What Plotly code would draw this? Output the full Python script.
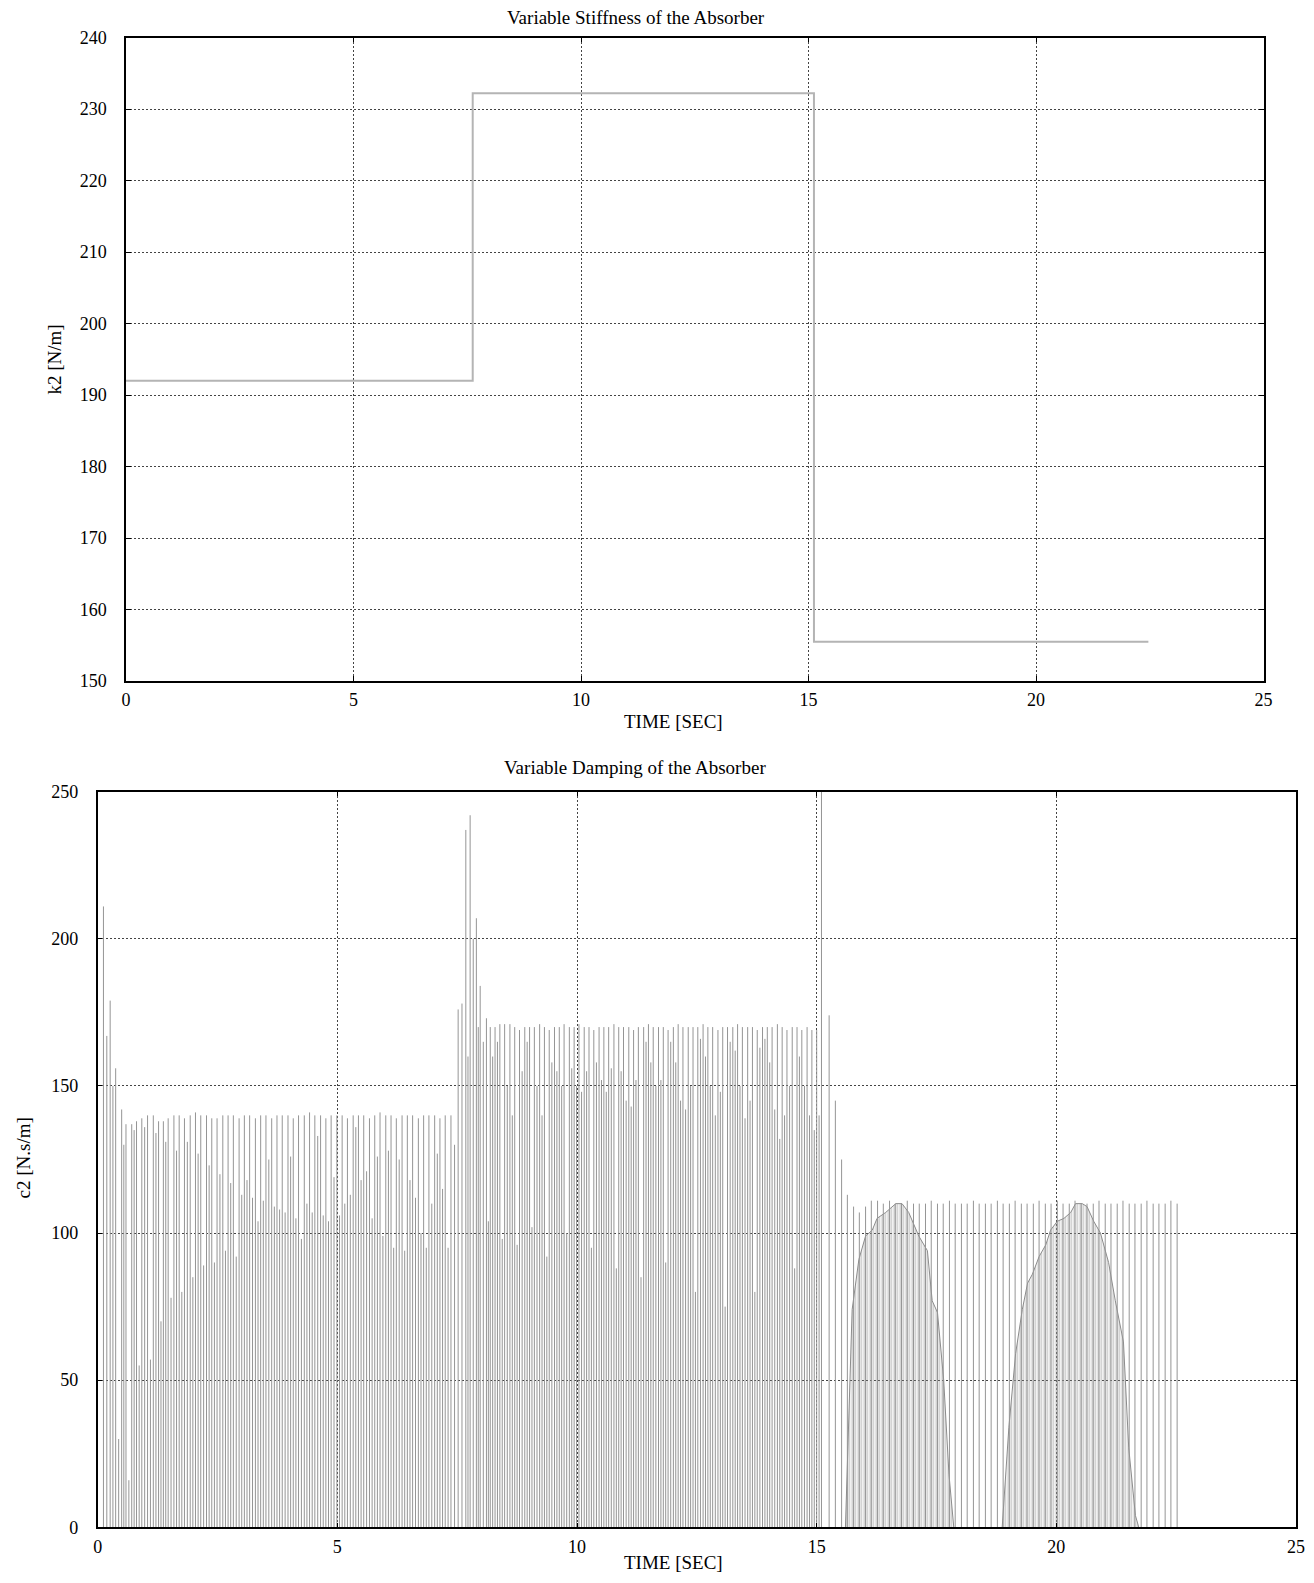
import plotly.graph_objects as go

# page is 1314x1583; the html body has an 8px margin
OX, OY = 8, 8
W, H = 1314 - 2 * OX, 1583 - 2 * OY

# ---------------- Top chart: variable stiffness k2 ----------------
k2_times = [0, 7.62, 15.12, 22.47]
k2_values = [192.0, 232.2, 155.5, 155.5]

# ---------------- Bottom chart: variable damping c2 ----------------
# segment 1 (k2 = 192): spike times, spike peaks, secondary line heights
seg1_t = [0.12, 0.26, 0.375, 0.50, 0.59, 0.71, 0.81, 0.92, 1.04, 1.16,
          1.27, 1.37, 1.47, 1.59, 1.70, 1.81, 1.93, 2.04, 2.15, 2.27,
          2.38, 2.49, 2.61, 2.72, 2.83, 2.95, 3.06, 3.17, 3.29, 3.40,
          3.51, 3.63, 3.74, 3.85, 3.97, 4.08, 4.19, 4.31, 4.42, 4.53,
          4.65, 4.76, 4.87, 4.99, 5.10, 5.21, 5.33, 5.44, 5.55, 5.67,
          5.78, 5.89, 6.01, 6.12, 6.23, 6.35, 6.46, 6.57, 6.69, 6.80,
          6.91, 7.03, 7.14, 7.25, 7.37]
seg1_peak = [211, 179, 156, 142, 137, 137, 138, 139, 140, 140,
             138, 138, 139, 140, 140, 139, 140, 141, 140, 140,
             139, 139, 140, 140, 140, 139, 140, 140, 139, 140,
             140, 139, 140, 140, 140, 139, 140, 140, 141, 140,
             140, 139, 140, 140, 140, 139, 140, 140, 140, 139,
             140, 141, 140, 140, 139, 140, 140, 140, 139, 140,
             140, 140, 139, 140, 140]
seg1_mid = [167, 150, 30, 130, 16, 135, 55, 136, 57, 134,
            70, 131, 78, 128, 80, 131, 85, 127, 89, 123,
            90, 120, 94, 117, 92, 113, 118, 112, 104, 111,
            125, 109, 108, 107, 126, 105, 98, 110, 107, 133,
            106, 104, 119, 106, 110, 113, 136, 118, 121, 105,
            126, 99, 128, 95, 125, 94, 118, 112, 100, 95,
            110, 127, 115, 95, 130]

# segment 2 (k2 = 232)
seg2_t = [7.52, 7.68, 7.77, 7.90, 7.98, 8.11, 8.19, 8.29, 8.39, 8.49,
          8.60, 8.70, 8.80, 8.91, 9.01, 9.11, 9.22, 9.32, 9.42, 9.53,
          9.63, 9.73, 9.84, 9.94, 10.04, 10.15, 10.25, 10.35, 10.46, 10.56,
          10.66, 10.77, 10.87, 10.97, 11.08, 11.18, 11.28, 11.39, 11.49, 11.59,
          11.70, 11.80, 11.90, 12.01, 12.11, 12.21, 12.32, 12.42, 12.52, 12.63,
          12.73, 12.83, 12.94, 13.04, 13.14, 13.25, 13.35, 13.45, 13.56, 13.66,
          13.76, 13.87, 13.97, 14.07, 14.18, 14.28, 14.38, 14.49, 14.59, 14.69,
          14.80, 14.90, 15.00]
seg2_peak = [176, 237, 242, 207, 184, 173, 170, 170, 171, 171,
             171, 170, 169, 170, 170, 170, 171, 170, 169, 170,
             170, 171, 170, 170, 171, 170, 170, 169, 170, 170,
             170, 171, 170, 170, 170, 169, 170, 170, 171, 170,
             170, 170, 169, 170, 171, 170, 170, 170, 170, 171,
             170, 170, 169, 170, 170, 170, 171, 170, 170, 170,
             169, 170, 170, 170, 171, 170, 169, 170, 170, 169,
             170, 169, 169]
seg2_mid = [178, 160, 200, 170, 165, 104, 160, 165, 98, 150,
            140, 96, 155, 165, 102, 150, 140, 92, 158, 155,
            150, 100, 156, 150, 148, 155, 95, 158, 152, 148,
            156, 88, 155, 145, 143, 152, 85, 165, 158, 150,
            152, 90, 165, 158, 145, 142, 150, 80, 166, 160,
            150, 140, 148, 75, 165, 162, 150, 139, 145, 80,
            163, 166, 158, 142, 132, 140, 150, 88, 160, 150,
            140, 135, 140]

# segment 3 (k2 = 155.5)
seg3_t = [15.10, 15.26, 15.39, 15.52, 15.64, 15.77, 15.89, 16.02, 16.14, 16.27,
          16.39, 16.52, 16.64, 16.77, 16.89, 17.02, 17.14, 17.27, 17.39, 17.52,
          17.64, 17.77, 17.89, 18.02, 18.14, 18.27, 18.39, 18.52, 18.64, 18.77,
          18.89, 19.02, 19.14, 19.27, 19.39, 19.52, 19.64, 19.77, 19.89, 20.02,
          20.14, 20.27, 20.39, 20.52, 20.64, 20.77, 20.89, 21.02, 21.14, 21.27,
          21.39, 21.52, 21.64, 21.77, 21.89, 22.02, 22.14, 22.27, 22.39, 22.52]
seg3_peak = [262, 174, 145, 125, 113, 109, 107, 109, 111, 111,
             110, 111, 110, 110, 111, 110, 110, 110, 111, 110,
             110, 111, 110, 110, 110, 111, 110, 110, 110, 111,
             110, 110, 111, 110, 110, 110, 111, 110, 110, 111,
             110, 110, 111, 110, 110, 110, 111, 110, 110, 110,
             111, 110, 110, 110, 111, 110, 110, 110, 111, 110]

# the two dense humps in segment 3 (envelope)
hump1_t = [15.60, 15.74, 15.88, 16.02, 16.16, 16.26, 16.44, 16.65, 16.78,
           16.92, 17.13, 17.31, 17.41, 17.52, 17.65, 17.76, 17.86]
hump1_c = [0, 74, 91, 99, 101, 105, 107, 110, 110, 107, 99, 94, 77, 73, 50, 18, 0]
hump2_t = [18.87, 19.01, 19.15, 19.29, 19.40, 19.50, 19.64, 19.78, 19.88, 20.02,
           20.16, 20.30, 20.40, 20.54, 20.64, 20.78, 20.92, 21.09, 21.23, 21.40,
           21.51, 21.65, 21.72]
hump2_c = [0, 34, 59, 74, 83, 86, 92, 96, 101, 104, 105, 107, 110, 110, 109,
           104, 100, 90, 77, 63, 27, 4, 0]

FONT = "Liberation Serif, Times New Roman, serif"
SPIKE = "#959595"


def fx(px):
    return (px - OX) / W


def fy(py):
    return 1 - (py - OY) / H


def spikes(times, peaks):
    xs, ys = [], []
    for t, p in zip(times, peaks):
        xs += [t, t, None]
        ys += [0, p, None]
    return xs, ys


def mids(times, heights, next_first):
    xs, ys = [], []
    for i, h in enumerate(heights):
        nxt = times[i + 1] if i + 1 < len(times) else next_first
        m = (times[i] + nxt) / 2
        xs += [m, m, None]
        ys += [0, h, None]
    return xs, ys


fig = go.Figure()

fig.add_trace(go.Scatter(x=k2_times, y=k2_values, mode="lines",
                         line=dict(color="#b4b4b4", width=2, shape="hv"),
                         xaxis="x", yaxis="y", hoverinfo="skip"))

for xs_ys in [mids(seg1_t, seg1_mid, seg2_t[0]), mids(seg2_t, seg2_mid, seg3_t[0])]:
    fig.add_trace(go.Scatter(x=xs_ys[0], y=xs_ys[1], mode="lines",
                             line=dict(color=SPIKE, width=1),
                             xaxis="x2", yaxis="y2", hoverinfo="skip"))

for ht, hc in [(hump1_t, hump1_c), (hump2_t, hump2_c)]:
    fig.add_trace(go.Scatter(x=ht, y=hc, mode="lines", fill="tozeroy",
                             line=dict(color="#8c8c8c", width=1),
                             fillcolor="rgba(150,150,150,0.45)",
                             fillpattern=dict(shape="|", size=3, solidity=0.5,
                                              fgcolor="#8f8f8f", bgcolor="rgba(0,0,0,0)"),
                             xaxis="x2", yaxis="y2", hoverinfo="skip"))

for st, sp in [(seg1_t, seg1_peak), (seg2_t, seg2_peak), (seg3_t, seg3_peak)]:
    xs, ys = spikes(st, sp)
    fig.add_trace(go.Scatter(x=xs, y=ys, mode="lines",
                             line=dict(color=SPIKE, width=1),
                             xaxis="x2", yaxis="y2", hoverinfo="skip"))

tickfont = dict(family=FONT, size=18, color="black")
common = dict(showgrid=True, gridcolor="#444", gridwidth=1, griddash="2px,2px",
              showline=True, linecolor="black", linewidth=1.5, mirror="ticks",
              ticks="inside", ticklen=5, tickcolor="black", tickfont=tickfont,
              zeroline=False, automargin=False)

fig.update_layout(
    width=W, height=H,
    margin=dict(l=0, r=0, t=0, b=0),
    paper_bgcolor="white", plot_bgcolor="white",
    showlegend=False,
    xaxis=dict(domain=[fx(126), fx(1263.5)], range=[0, 25], dtick=5, tick0=0,
               anchor="y", ticklabelstandoff=2, **common),
    yaxis=dict(domain=[fy(681), fy(37.5)], range=[150, 240], dtick=10, tick0=150,
               anchor="x", ticklabelstandoff=14, **common),
    xaxis2=dict(domain=[fx(97.7), fx(1296)], range=[0, 25], dtick=5, tick0=0,
                anchor="y2", ticklabelstandoff=2, **common),
    yaxis2=dict(domain=[fy(1527.3), fy(791.7)], range=[0, 250], dtick=50, tick0=0,
                anchor="x2", ticklabelstandoff=14, **common),
)

ann_font = dict(family=FONT, size=19, color="black")
annotations = [
    dict(text="Variable Stiffness of the Absorber", x=fx(636), y=fy(17.5)),
    dict(text="TIME [SEC]", x=fx(673), y=fy(721)),
    dict(text="k2 [N/m]", x=fx(53.5), y=fy(360), textangle=-90),
    dict(text="Variable Damping of the Absorber", x=fx(635), y=fy(767)),
    dict(text="TIME [SEC]", x=fx(673), y=fy(1575), yanchor="bottom"),
    dict(text="c2 [N.s/m]", x=fx(22.5), y=fy(1158), textangle=-90),
]
for a in annotations:
    a.setdefault("yanchor", "middle")
    a.update(xref="paper", yref="paper", showarrow=False, xanchor="center",
             font=ann_font)
fig.update_layout(annotations=annotations)

fig.write_html("out.html")
